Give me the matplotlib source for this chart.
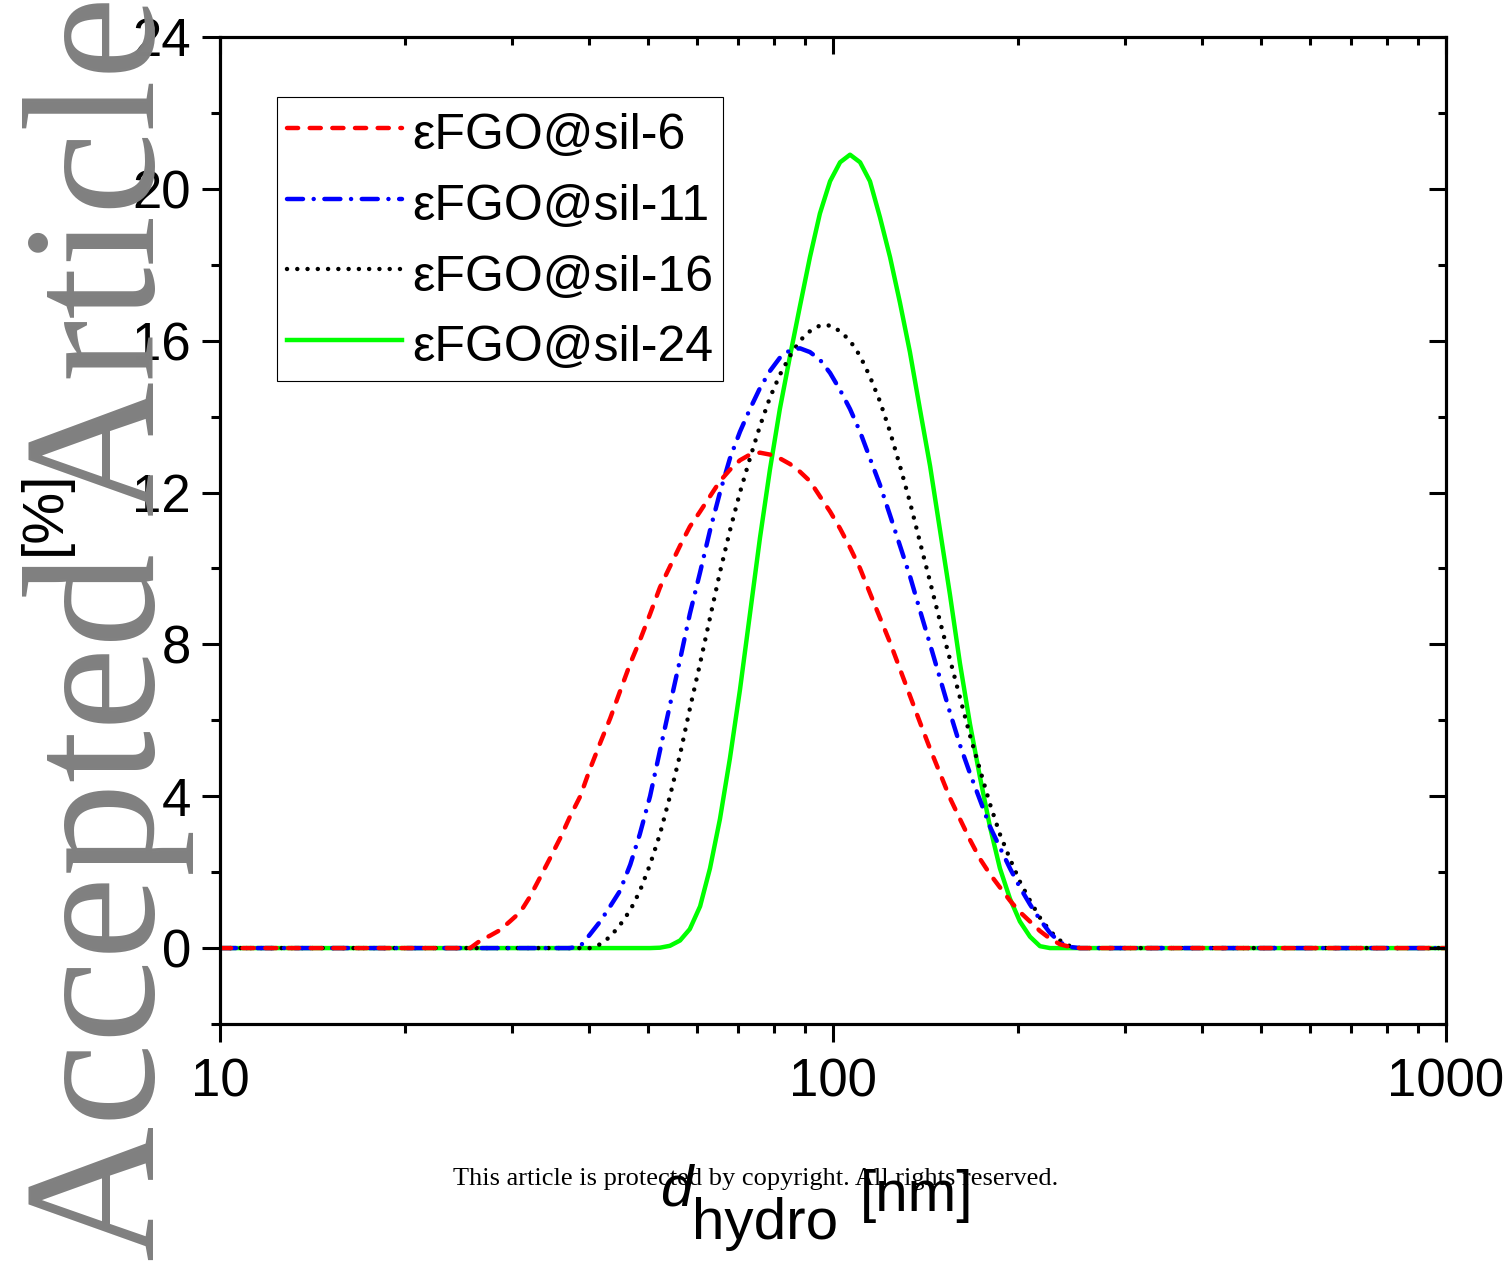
import matplotlib
matplotlib.use("Agg")
import matplotlib.pyplot as plt
from matplotlib.ticker import MultipleLocator, FixedLocator, NullFormatter

# hydrodynamic diameter (nm), shared grid for all four distributions
d_hydro = [10.0,
           25.6, 26.6, 27.6, 28.6, 29.7, 30.9, 32.0, 33.3, 34.5, 35.9,
           37.2, 38.7, 40.1, 41.7, 43.3, 44.9, 46.7, 48.4, 50.3, 52.2,
           54.2, 56.3, 58.4, 60.7, 63.0, 65.4, 67.9, 70.5, 73.2, 76.0,
           78.9, 81.9, 85.1, 88.3, 91.7, 95.2, 98.9, 102.7, 106.6, 110.7,
           114.9, 119.3, 123.9, 128.6, 133.5, 138.6, 144.0, 149.5, 155.2, 161.1,
           167.3, 173.7, 180.3, 187.2, 194.4, 201.8, 209.6, 217.6, 225.9, 234.6,
           243.6, 252.9,
           1000.0]

# number distribution [%]
sil6 = [0.0,
        0.0, 0.2, 0.33, 0.47, 0.7, 0.95, 1.34, 1.87, 2.35, 2.9,
        3.45, 4.0, 4.7, 5.4, 6.05, 6.75, 7.5, 8.1, 8.8, 9.5,
        10.05, 10.6, 11.1, 11.5, 11.9, 12.3, 12.6, 12.85, 13.0, 13.05,
        13.0, 12.9, 12.75, 12.55, 12.3, 11.9, 11.5, 11.05, 10.55, 10.0,
        9.35, 8.7, 8.05, 7.35, 6.65, 5.95, 5.25, 4.6, 3.95, 3.4,
        2.85, 2.35, 1.95, 1.6, 1.25, 0.95, 0.7, 0.45, 0.25, 0.1,
        0.03, 0.0,
        0.0]

sil11 = [0.0,
         0.0, 0.0, 0.0, 0.0, 0.0, 0.0, 0.0, 0.0, 0.0, 0.0,
         0.0, 0.05, 0.35, 0.7, 1.1, 1.5, 2.2, 3.0, 4.0, 5.2,
         6.4, 7.6, 8.8, 9.9, 11.0, 12.0, 12.9, 13.6, 14.2, 14.75,
         15.2, 15.55, 15.75, 15.8, 15.7, 15.5, 15.15, 14.7, 14.2, 13.6,
         12.9, 12.2, 11.4, 10.6, 9.8, 8.9, 8.0, 7.1, 6.2, 5.35,
         4.6, 3.9, 3.2, 2.65, 2.1, 1.6, 1.15, 0.75, 0.4, 0.15,
         0.03, 0.0,
         0.0]

sil16 = [0.0,
         0.0, 0.0, 0.0, 0.0, 0.0, 0.0, 0.0, 0.0, 0.0, 0.0,
         0.0, 0.0, 0.0, 0.1, 0.3, 0.6, 1.0, 1.5, 2.2, 3.0,
         4.0, 5.1, 6.3, 7.5, 8.7, 9.9, 11.0, 12.0, 12.9, 13.75,
         14.5, 15.1, 15.6, 16.0, 16.25, 16.4, 16.4, 16.25, 16.0, 15.6,
         15.05, 14.4, 13.6, 12.7, 11.75, 10.7, 9.65, 8.6, 7.6, 6.6,
         5.6, 4.7, 3.8, 3.0, 2.35, 1.75, 1.25, 0.8, 0.45, 0.2,
         0.05, 0.0,
         0.0]

sil24 = [0.0,
         0.0, 0.0, 0.0, 0.0, 0.0, 0.0, 0.0, 0.0, 0.0, 0.0,
         0.0, 0.0, 0.0, 0.0, 0.0, 0.0, 0.0, 0.0, 0.0, 0.01,
         0.06, 0.2, 0.5, 1.1, 2.1, 3.4, 5.0, 6.8, 8.8, 10.8,
         12.6, 14.2, 15.6, 16.9, 18.2, 19.35, 20.2, 20.7, 20.9, 20.7,
         20.2, 19.25, 18.2, 17.0, 15.7, 14.2, 12.7, 11.0, 9.3, 7.5,
         5.9, 4.5, 3.2, 2.1, 1.3, 0.7, 0.3, 0.05, 0.0, 0.0,
         0.0, 0.0,
         0.0]

labels = ["\u03b5FGO@sil-6", "\u03b5FGO@sil-11", "\u03b5FGO@sil-16", "\u03b5FGO@sil-24"]
x_ticks = [10, 100, 1000]
x_ticklabels = ["10", "100", "1000"]

plt.rcParams['font.family'] = ['Liberation Sans', 'DejaVu Sans']

W, H = 1512, 1262
fig = plt.figure(figsize=(W / 100, H / 100), dpi=100)
ax = fig.add_axes([220 / W, 1 - 1024 / H, (1446 - 220) / W, (1024 - 37) / H])

lw = 3.2
l24, = ax.plot(d_hydro, sil24, color='#00ff00', lw=lw, zorder=2)
l16, = ax.plot(d_hydro, sil16, color='black', lw=lw, dashes=(0.01, 2.3),
               dash_capstyle='round', zorder=3)
l11, = ax.plot(d_hydro, sil11, color='#0000ff', lw=lw, dashes=(3.6, 2.4, 0.01, 2.4),
               dash_capstyle='round', zorder=4)
l6, = ax.plot(d_hydro, sil6, color='#ff0000', lw=lw, dashes=(2.5, 2.6),
              dash_capstyle='round', zorder=5)

ax.set_xscale('log')
ax.set_xlim(10, 1000)
ax.set_ylim(-2, 24)
ax.xaxis.set_major_locator(FixedLocator(x_ticks))
ax.set_xticklabels(x_ticklabels)
ax.xaxis.set_minor_formatter(NullFormatter())
ax.yaxis.set_major_locator(MultipleLocator(4))
ax.yaxis.set_minor_locator(MultipleLocator(2))

for s in ax.spines.values():
    s.set_linewidth(2.2)
ax.tick_params(which='both', direction='out', width=2.2, labelsize=38,
               top=False, right=False)
ax.tick_params(which='major', length=13)
ax.tick_params(which='minor', length=6.5)
ax.tick_params(axis='x', pad=11)
ax.tick_params(axis='y', pad=8)

# inward ticks on top and right
ax_t = ax.twiny()
ax_t.set_xscale('log')
ax_t.set_xlim(10, 1000)
ax_t.xaxis.set_major_locator(FixedLocator(x_ticks))
ax_t.tick_params(axis='x', which='both', direction='in', width=2.2,
                 labeltop=False, labelbottom=False)
ax_t.tick_params(axis='x', which='major', length=12)
ax_t.tick_params(axis='x', which='minor', length=6)
ax_r = ax.twinx()
ax_r.set_ylim(-2, 24)
ax_r.yaxis.set_major_locator(MultipleLocator(4))
ax_r.yaxis.set_minor_locator(MultipleLocator(2))
ax_r.tick_params(axis='y', which='both', direction='in', width=2.2,
                 labelright=False, labelleft=False)
ax_r.tick_params(axis='y', which='major', length=12)
ax_r.tick_params(axis='y', which='minor', length=6)
for a in (ax_t, ax_r):
    for s in a.spines.values():
        s.set_linewidth(2.2)

leg = ax_r.legend([l6, l11, l16, l24], labels, loc='upper left',
                  bbox_to_anchor=((277 - 220) / 1226, (1024 - 97) / 987),
                  borderaxespad=0, fontsize=36, handlelength=2.3,
                  handleheight=1.2, handletextpad=0.2, labelspacing=0.36,
                  borderpad=0.2, fancybox=False, framealpha=1,
                  edgecolor='black')
leg.get_frame().set_linewidth(0.8)

# axis titles
fig.text(45 / W, 1 - 513 / H, '[%]', rotation=90, ha='center', va='center',
         fontsize=42)
fig.text(660 / W, 1 - 1205 / H, 'd', style='italic', fontsize=42,
         ha='left', va='baseline')
fig.text(692 / W, 1 - 1239 / H, 'hydro', fontsize=42, ha='left', va='baseline')
fig.text(860 / W, 1 - 1211 / H, '[nm]', fontsize=42, ha='left', va='baseline')

# journal overlays
fig.text(756 / W, 1 - 1179 / H,
         'This article is protected by copyright. All rights reserved.',
         ha='center', va='center', fontsize=19, family='Liberation Serif')
fig.text(154 / W, 1 - 628 / H, 'Accepted Article', rotation=90,
         rotation_mode='anchor', ha='center', va='baseline', fontsize=135,
         family='Liberation Serif', color='#808080', zorder=10)

fig.savefig('out.png', dpi=100)
